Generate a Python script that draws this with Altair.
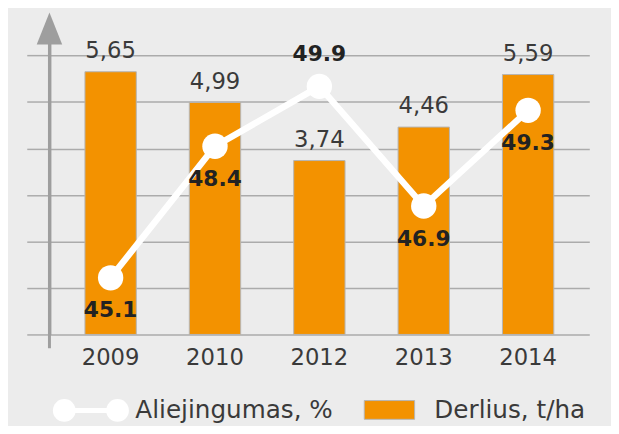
import altair as alt
import pandas as pd

years = ["2009", "2010", "2012", "2013", "2014"]
yield_t_ha = [5.65, 4.99, 3.74, 4.46, 5.59]
oil_pct = [45.1, 48.4, 49.9, 46.9, 49.3]
legend_labels = ["Aliejingumas, %", "Derlius, t/ha"]

df = pd.DataFrame({"year": years, "yield": yield_t_ha, "oil": oil_pct})

FONT = "DejaVu Sans"
ORANGE = "#F39200"
GRID = "#ABABAB"
AXIS = "#9E9E9E"
TXT = "#3A3A3A"

x = alt.X(
    "year:N", sort=years,
    scale=alt.Scale(paddingInner=0.508, paddingOuter=0.34),
    axis=alt.Axis(title=None, labelFontSize=23, labelColor=TXT, labelFont=FONT,
                  ticks=False, domain=False, labelPadding=12, labelAngle=0, grid=False),
)
ybar = alt.Y("yield:Q", scale=alt.Scale(domain=[0, 6.75], nice=False, zero=True),
             axis=alt.Axis(title=None, values=[0, 1, 2, 3, 4, 5, 6], labels=False,
                           tickSize=23, tickColor=GRID, tickWidth=1.5,
                           gridColor=GRID, gridWidth=1.5,
                           domainColor=AXIS, domainWidth=3))
yl = alt.Y("oil:Q", scale=alt.Scale(domain=[43.68, 51.55], nice=False, zero=False), axis=None)

base = alt.Chart(df)

bars = base.mark_bar(color=ORANGE, stroke="#B5B5B5", strokeWidth=1).encode(x=x, y=ybar)
bar_labels = base.transform_calculate(
    lbl="replace(format(datum.yield, '.2f'), '.', ',')"
).mark_text(font=FONT, fontSize=23, color=TXT, baseline="alphabetic", dy=-14).encode(
    x=x, y=ybar, text="lbl:N"
)

line = base.mark_line(color="white", strokeWidth=6.5).encode(x=x, y=yl)
points = base.mark_circle(color="white", opacity=1, size=660).encode(x=x, y=yl)
lbl_below = base.transform_filter("datum.year != '2012'").mark_text(
    font=FONT, fontWeight="bold", fontSize=22, color="#222222", baseline="middle", dy=33
).encode(x=x, y=yl, text=alt.Text("oil:Q", format=".1f"))
lbl_above = base.transform_filter("datum.year == '2012'").mark_text(
    font=FONT, fontWeight="bold", fontSize=22, color="#222222", baseline="middle", dy=-33
).encode(x=x, y=yl, text=alt.Text("oil:Q", format=".1f"))

one = alt.Chart(pd.DataFrame({"k": [0]}))
axis_ext = one.mark_rule(color=AXIS, strokeWidth=3).encode(
    x=alt.value(0), y=alt.value(0), y2=alt.value(332))
arrow = one.mark_point(shape="M0,-1L-0.8,1L0.8,1Z", filled=True, color=AXIS,
                       size=1040, opacity=1).encode(x=alt.value(0), y=alt.value(8))

LY = 395
leg_line = one.mark_rule(color="white", strokeWidth=5).encode(
    x=alt.value(15), x2=alt.value(69), y=alt.value(LY))
leg_c1 = one.mark_circle(color="white", opacity=1, size=530).encode(
    x=alt.value(15), y=alt.value(LY))
leg_c2 = one.mark_circle(color="white", opacity=1, size=530).encode(
    x=alt.value(69), y=alt.value(LY))
leg_t1 = one.mark_text(font=FONT, fontSize=25, color=TXT, align="left", baseline="middle").encode(
    x=alt.value(87), y=alt.value(LY), text=alt.value(legend_labels[0]))
leg_rect = one.mark_rect(color=ORANGE, stroke="#B5B5B5", strokeWidth=1).encode(
    x=alt.value(319), x2=alt.value(370), y=alt.value(LY - 10), y2=alt.value(LY + 9))
leg_t2 = one.mark_text(font=FONT, fontSize=25, color=TXT, align="left", baseline="middle").encode(
    x=alt.value(390), y=alt.value(LY), text=alt.value(legend_labels[1]))

chart = alt.layer(
    axis_ext, arrow,
    alt.layer(bars, bar_labels),
    alt.layer(line, points, lbl_below, lbl_above),
    leg_line, leg_c1, leg_c2, leg_t1, leg_rect, leg_t2,
).resolve_scale(y="independent").properties(
    width=547, height=318,
    padding={"left": 42, "top": 10, "right": 22, "bottom": 90},
    autosize=alt.AutoSizeParams(type="none"),
    background="#ECECEC",
).configure_view(stroke=None)

chart.save("out.html", embed_options={"renderer": "svg", "actions": False})
